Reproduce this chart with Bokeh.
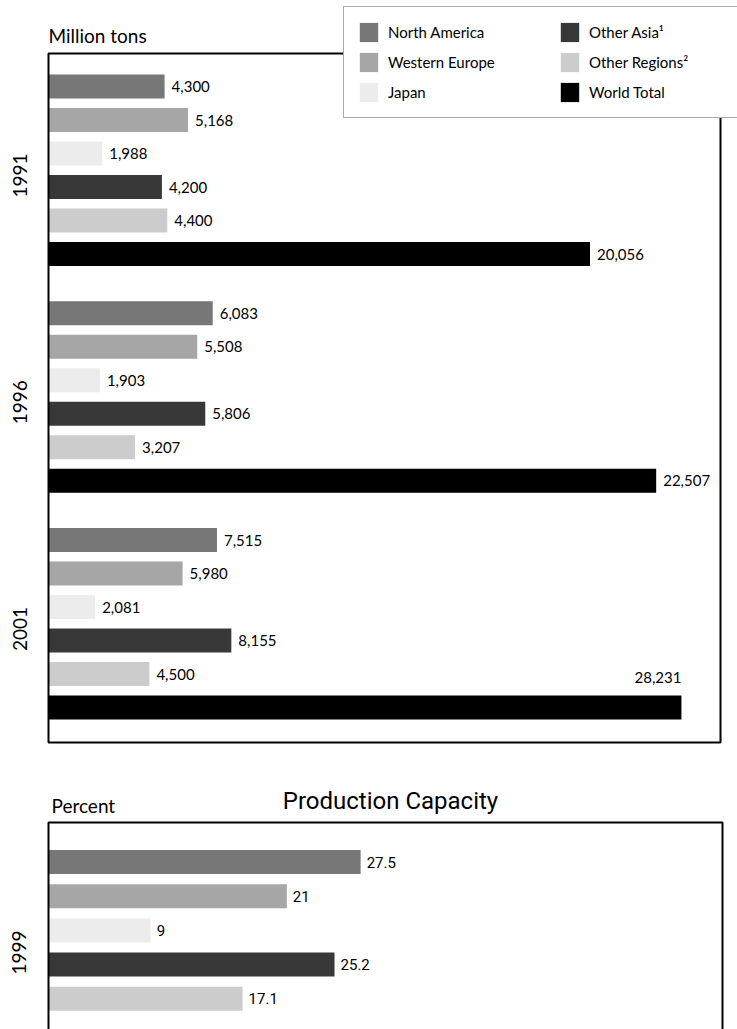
import math
from bokeh.plotting import figure
from bokeh.models import (Range1d, FixedTicker, Legend, LegendItem, Label,
                          ColumnDataSource, BoxAnnotation)
from bokeh.layouts import column
from bokeh.embed import file_html
from bokeh.resources import INLINE
from bokeh.core.properties import value

# ---------------- data ----------------
years = ["1991", "1996", "2001"]
regions = ["North America", "Western Europe", "Japan",
           "Other Asia\u00b9", "Other Regions\u00b2", "World Total"]
colors = ["#777777", "#a6a6a6", "#ececec", "#383838", "#cccccc", "#000000"]
v1991 = [4300, 5168, 1988, 4200, 4400, 20056]
v1996 = [6083, 5508, 1903, 5806, 3207, 22507]
v2001 = [7515, 5980, 2081, 8155, 4500, 28231]

cap_year = "1999"
cap_regions = regions[:5]
cap_values = [27.5, 21, 9, 25.2, 17.1]

FONT = "Lato"
COND = "Roboto"

# ---------------- top chart ----------------
W = 737
FL = 40            # frame left (page px)
X0 = 48            # page x of value 0
k1 = 0.0270        # px per ton (1991, 1996)
k2 = 0.02242       # px per ton (2001)
pitch = 33.5       # px per bar slot
H1 = 760

p = figure(width=W, height=H1, output_backend="svg", toolbar_location=None,
           x_range=Range1d((FL - X0) / k1, (W - X0) / k1),
           y_range=Range1d(H1 / pitch, 0),
           min_border_left=FL, min_border_right=0, min_border_top=0,
           min_border_bottom=0)
p.extra_x_ranges = {"wide": Range1d((FL - X0) / k2, (W - X0) / k2)}
p.outline_line_color = None
p.xgrid.visible = False
p.ygrid.visible = False
p.xaxis.visible = False

# box of the chart area
p.add_layout(BoxAnnotation(left=0, right=(720 - X0) / k1,
                           top=53 / pitch, bottom=742 / pitch,
                           fill_alpha=0, line_color="black", line_alpha=1.0,
                           line_width=2))

group_pitch = 226.75 / pitch
first = 86.0 / pitch
bar_h = 24.0 / pitch

group_vals = [v1991, v1996, v2001]
group_range = ["default", "default", "wide"]
renderers = []
centers = []
for g, (yr, vals) in enumerate(zip(years, group_vals)):
    ys = [first + g * group_pitch + i for i in range(len(vals))]
    centers.append(sum(ys[:5]) / 5)
    src = ColumnDataSource(dict(y=ys, right=vals, color=colors,
                                label=[f"{v:,}" for v in vals]))
    r = p.hbar(y="y", right="right", left=0, height=bar_h, fill_color="color",
               line_color=None, source=src, x_range_name=group_range[g])
    renderers.append(r)
    n_side = 6 if g < 2 else 5
    src_a = ColumnDataSource(dict(y=ys[:n_side], right=vals[:n_side],
                                  label=[f"{v:,}" for v in vals[:n_side]]))
    p.text(x="right", y="y", text="label", source=src_a, x_offset=7,
           text_baseline="middle", text_align="left",
           text_font=value(FONT), text_font_size="15px", text_color="black",
           x_range_name=group_range[g])
    if n_side < 6:
        src_b = ColumnDataSource(dict(y=[ys[5] - bar_h / 2], right=[vals[5]],
                                      label=[f"{vals[5]:,}"]))
        p.text(x="right", y="y", text="label", source=src_b, y_offset=-13,
               text_baseline="bottom", text_align="right",
               text_font=value(FONT), text_font_size="15px", text_color="black",
               x_range_name=group_range[g])

ya = p.yaxis[0]
ya.ticker = FixedTicker(ticks=centers)
ya.major_label_overrides = {c: y for c, y in zip(centers, years)}
ya.major_label_orientation = math.pi / 2
ya.axis_line_color = None
ya.major_tick_line_color = None
ya.minor_tick_line_color = None
ya.major_label_standoff = 15
ya.major_label_text_font = FONT
ya.major_label_text_font_size = "19px"
ya.major_label_text_color = "black"

p.add_layout(Label(x=0, y=35 / pitch, text="Million tons", text_font=FONT,
                   text_font_size="19px", text_baseline="middle",
                   text_align="left", text_color="black"))

items = [LegendItem(label=regions[i], renderers=[renderers[0]], index=i)
         for i in range(len(regions))]
legend = Legend(items=items, ncols=2, location=(343 - FL, H1 - 118),
                glyph_width=23, glyph_height=24, label_standoff=8,
                label_width=164, spacing=6, padding=13,
                label_text_font=FONT, label_text_font_size="15px",
                label_text_color="black",
                border_line_color="#555555", border_line_width=1.5,
                background_fill_color="white", background_fill_alpha=1.0)
p.add_layout(legend)

# ---------------- bottom chart ----------------
H2 = 1029 - H1
k3 = 11.35      # px per percent
pitch2 = 34.2
top2 = H1       # page y of this figure's top

q = figure(width=W, height=H2, output_backend="svg", toolbar_location=None,
           x_range=Range1d((FL - X0) / k3, (W - X0) / k3),
           y_range=Range1d(H2 / pitch2, 0),
           min_border_left=FL, min_border_right=0, min_border_top=0,
           min_border_bottom=0)
q.outline_line_color = None
q.xgrid.visible = False
q.ygrid.visible = False
q.xaxis.visible = False

q.add_layout(BoxAnnotation(left=0, right=(722 - X0) / k3,
                           top=(822 - top2) / pitch2,
                           bottom=(1100 - top2) / pitch2,
                           fill_alpha=0, line_color="black", line_alpha=1.0,
                           line_width=2))

first2 = (861.5 - top2) / pitch2
ys2 = [first2 + i for i in range(len(cap_values))]
src2 = ColumnDataSource(dict(y=ys2, right=cap_values, color=colors[:5],
                             label=[f"{v:g}" for v in cap_values]))
q.hbar(y="y", right="right", left=0, height=24.0 / pitch2, fill_color="color",
       line_color=None, source=src2)
q.text(x="right", y="y", text="label", source=src2, x_offset=6,
       text_baseline="middle", text_align="left",
       text_font=value(COND), text_font_size="15px", text_color="black")

c2 = sum(ys2) / len(ys2)
qa = q.yaxis[0]
qa.ticker = FixedTicker(ticks=[c2])
qa.major_label_overrides = {c2: cap_year}
qa.major_label_orientation = math.pi / 2
qa.axis_line_color = None
qa.major_tick_line_color = None
qa.minor_tick_line_color = None
qa.major_label_standoff = 15
qa.major_label_text_font = FONT
qa.major_label_text_font_size = "19px"
qa.major_label_text_color = "black"

q.add_layout(Label(x=0, y=(805 - top2) / pitch2, x_offset=3, text="Percent",
                   text_font=FONT, text_font_size="19px",
                   text_baseline="middle", text_align="left",
                   text_color="black"))
q.add_layout(Label(x=(390 - X0) / k3, y=(800 - top2) / pitch2,
                   text="Production Capacity", text_font=COND,
                   text_font_size="24px", text_align="center",
                   text_baseline="middle", text_color="black"))

layout = column(p, q, spacing=0)
open("out.html", "w").write(file_html(layout, INLINE))
